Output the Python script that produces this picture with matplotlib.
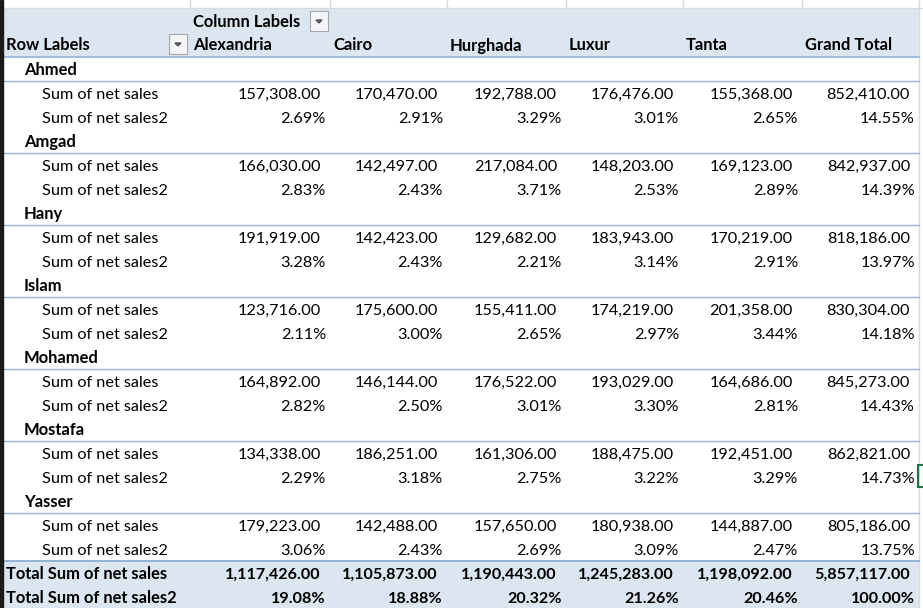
import matplotlib
matplotlib.use("Agg")
import matplotlib.pyplot as plt
from matplotlib.patches import Rectangle

plt.rcParams['font.family'] = ['Lato', 'DejaVu Sans']

cities = ["Alexandria", "Cairo", "Hurghada", "Luxur", "Tanta"]
names = ["Ahmed", "Amgad", "Hany", "Islam", "Mohamed", "Mostafa", "Yasser"]

net_sales = {
    "Ahmed":   [157308, 170470, 192788, 176476, 155368],
    "Amgad":   [166030, 142497, 217084, 148203, 169123],
    "Hany":    [191919, 142423, 129682, 183943, 170219],
    "Islam":   [123716, 175600, 155411, 174219, 201358],
    "Mohamed": [164892, 146144, 176522, 193029, 164686],
    "Mostafa": [134338, 186251, 161306, 188475, 192451],
    "Yasser":  [179223, 142488, 157650, 180938, 144887],
}
net_sales_total = {
    "Ahmed": 852410, "Amgad": 842937, "Hany": 818186, "Islam": 830304,
    "Mohamed": 845273, "Mostafa": 862821, "Yasser": 805186,
}
net_sales2 = {
    "Ahmed":   [2.69, 2.91, 3.29, 3.01, 2.65],
    "Amgad":   [2.83, 2.43, 3.71, 2.53, 2.89],
    "Hany":    [3.28, 2.43, 2.21, 3.14, 2.91],
    "Islam":   [2.11, 3.00, 2.65, 2.97, 3.44],
    "Mohamed": [2.82, 2.50, 3.01, 3.30, 2.81],
    "Mostafa": [2.29, 3.18, 2.75, 3.22, 3.29],
    "Yasser":  [3.06, 2.43, 2.69, 3.09, 2.47],
}
net_sales2_total = {
    "Ahmed": 14.55, "Amgad": 14.39, "Hany": 13.97, "Islam": 14.18,
    "Mohamed": 14.43, "Mostafa": 14.73, "Yasser": 13.75,
}
total_sales = [1117426, 1105873, 1190443, 1245283, 1198092, 5857117]
total_sales2 = [19.08, 18.88, 20.32, 21.26, 20.46, 100.00]

W, H = 923, 608
fig = plt.figure(figsize=(W / 100, H / 100), dpi=100)
ax = fig.add_axes([0, 0, 1, 1])
ax.set_xlim(0, W)
ax.set_ylim(H, 0)
ax.axis("off")

# layout
col_edges = [3, 190, 330, 447, 566, 683, 802, 919]
header_top, header_bot = 8, 57
row_h = 24
first_row_top = 57
fs = 11.7
fsb = 11.9
fsbn = 11.6
num_pad = 9
pct_pad = 4
base = 17.6  # baseline offset within a row

band = "#DCE6F1"
line_c = "#95B3D7"
grid_c = "#D9D9D9"

def txt(x, y, s, ha="left", bold=False, size=None):
    if size is None:
        size = fsb if bold else fs
    ax.text(x, y, s, fontsize=size,
            fontweight="bold" if bold else "normal",
            va="baseline", ha=ha, color="#000000")

# left dark strip
ax.add_patch(Rectangle((0, 0), 3, H, color="#1a1a1a", zorder=5))
# sheet gridlines at the top
for x in col_edges[1:]:
    ax.plot([x, x], [0, header_top], color=grid_c, lw=1)
ax.plot([3, W], [header_top, header_top], color=grid_c, lw=0.8)
ax.plot([919, 919], [header_top, H], color=grid_c, lw=1)

# header band
ax.add_patch(Rectangle((3, header_top), 916, header_bot - header_top, color=band, zorder=0))
ax.plot([3, 919], [header_bot, header_bot], color=line_c, lw=1.2)

def dropdown(x, y):
    ax.add_patch(Rectangle((x, y), 18, 20, facecolor="#F4F6F9", edgecolor="#A6A6A6", lw=0.8, zorder=3))
    ax.fill([x + 6, x + 12, x + 9], [y + 9, y + 9, y + 12], color="#555555", zorder=4)

txt(193, 27, "Column Labels", bold=True)
dropdown(310, 11)
txt(6, 50.5, "Row Labels", bold=True)
dropdown(169, 34)
for i, c in enumerate(cities + ["Grand Total"]):
    txt(col_edges[i + 1] + 3, 50.5, c, bold=True)

def fmt_num(v):
    return f"{v:,.2f}"

def fmt_pct(v):
    return f"{v:.2f}%"

r = 0
for n in names:
    top = first_row_top + r * row_h
    txt(24, top + base, n, bold=True)
    ax.plot([3, 919], [top + row_h, top + row_h], color=line_c, lw=1.0)
    r += 1
    top = first_row_top + r * row_h
    txt(42, top + base, "Sum of net sales")
    vals = net_sales[n] + [net_sales_total[n]]
    for j, v in enumerate(vals):
        txt(col_edges[j + 2] - num_pad, top + base, fmt_num(v), ha="right")
    r += 1
    top = first_row_top + r * row_h
    txt(42, top + base, "Sum of net sales2")
    vals = net_sales2[n] + [net_sales2_total[n]]
    for j, v in enumerate(vals):
        txt(col_edges[j + 2] - pct_pad, top + base, fmt_pct(v), ha="right")
    r += 1

# totals band
tot_top = first_row_top + r * row_h
ax.add_patch(Rectangle((3, tot_top), 916, H - tot_top, color=band, zorder=0))
ax.plot([3, 919], [tot_top, tot_top], color=line_c, lw=1.4)
txt(6, tot_top + base, "Total Sum of net sales", bold=True)
for j, v in enumerate(total_sales):
    txt(col_edges[j + 2] - num_pad, tot_top + base, fmt_num(v), ha="right", bold=True, size=fsbn)
txt(6, tot_top + row_h + base, "Total Sum of net sales2", bold=True)
for j, v in enumerate(total_sales2):
    txt(col_edges[j + 2] - pct_pad, tot_top + row_h + base, fmt_pct(v), ha="right", bold=True, size=fsbn)

# selected cell marker at right edge
ax.add_patch(Rectangle((918, 465), 6, 22, fill=False, edgecolor="#217346", lw=1.5, zorder=6))

fig.savefig("out.png", dpi=100)
